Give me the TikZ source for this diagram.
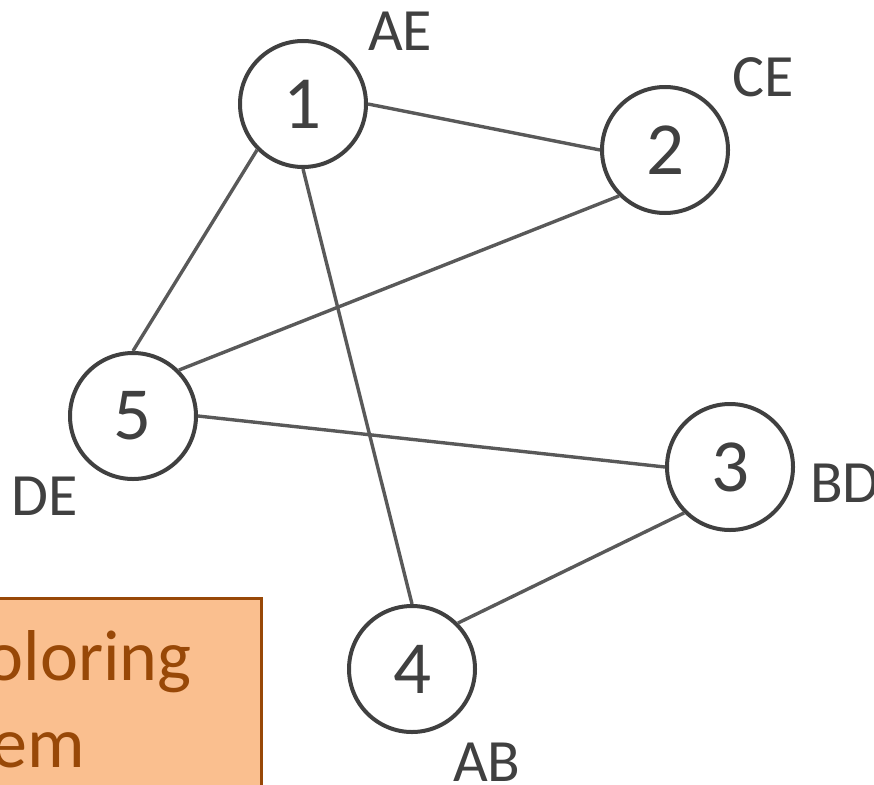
\documentclass[tikz,border=0pt]{standalone}
\usepackage{fontspec}
\setmainfont{Carlito}
\definecolor{ink}{HTML}{404040}
\definecolor{edgecol}{HTML}{595959}
\definecolor{peach}{HTML}{FABF8F}
\definecolor{brownc}{HTML}{984807}
\begin{document}
\begin{tikzpicture}[x=1pt,y=-1pt,
  vtx/.style={circle,draw=ink,line width=4pt,minimum size=126pt,inner sep=0pt,fill=white,
    text=ink,font=\fontsize{75}{80}\selectfont},
  lbl/.style={text=ink,inner sep=0pt,font=\fontsize{60}{66}\selectfont},
  edgeln/.style={draw=edgecol,line width=3.4pt},
  boxtxt/.style={text=brownc,inner sep=0pt,font=\fontsize{72}{86}\selectfont}]
\useasboundingbox (0,0) rectangle (874,784);
\clip (0,0) rectangle (874,784);
% nodes
\node[vtx] (n1) at (303,104) {1};
\node[vtx] (n2) at (665,150) {2};
\node[vtx] (n5) at (133,416) {5};
\node[vtx] (n3) at (730,467) {3};
\node[vtx] (n4) at (412,669) {4};
% edges
\draw[edgeln] (n1.0) -- (n2.180);
\draw[edgeln] (n1.225) -- (n5.90);
\draw[edgeln] (n1.270) -- (n4.90);
\draw[edgeln] (n5.45) -- (n2.225);
\draw[edgeln] (n5.0) -- (n3.180);
\draw[edgeln] (n3.225) -- (n4.45);
% labels
\node[lbl,anchor=base west] (lAE) at (368,50) {AE};
\node[lbl,anchor=base west] (lCE) at (732,96) {CE};
\node[lbl,anchor=base east] (lDE) at (78,515) {DE};
\node[lbl,anchor=base west] (lBD) at (810,502) {BD};
\node[lbl,anchor=base west] (lAB) at (453,781) {AB};
% box
\node[draw=brownc,fill=peach,line width=3pt,minimum width=300pt,minimum height=220pt,inner sep=0pt,anchor=north east] (box) at (263,597) {};
\node[boxtxt,anchor=base east] (t1) at (192,680) {Coloring};
\node[boxtxt,anchor=base east] (t2) at (85,767) {Problem};
\end{tikzpicture}
\end{document}
